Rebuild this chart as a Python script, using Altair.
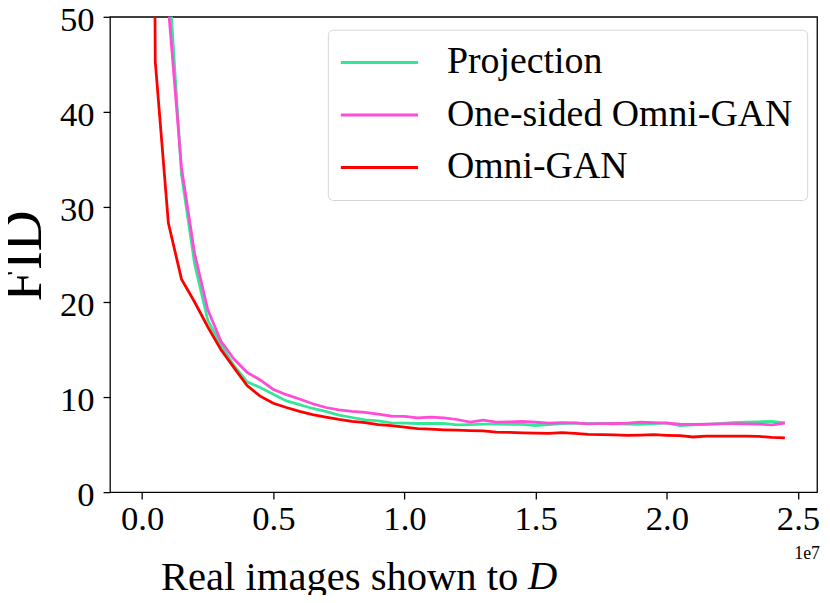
import altair as alt
import pandas as pd

# x in units of 1e7 real images
x_vals = [0.00, 0.05, 0.10, 0.15, 0.20, 0.25, 0.30, 0.35, 0.40, 0.45,
          0.50, 0.55, 0.60, 0.65, 0.70, 0.75, 0.80, 0.85, 0.90, 0.95,
          1.00, 1.05, 1.10, 1.15, 1.20, 1.25, 1.30, 1.35, 1.40, 1.45,
          1.50, 1.55, 1.60, 1.65, 1.70, 1.75, 1.80, 1.85, 1.90, 1.95,
          2.00, 2.05, 2.10, 2.15, 2.20, 2.25, 2.30, 2.35, 2.40, 2.45]

projection = [300, 120, 55, 33.4, 24.0, 18.1, 15.5, 13.3, 11.6, 11.0,
              10.3, 9.6, 9.2, 8.8, 8.5, 8.1, 7.85, 7.6, 7.5, 7.29,
              7.25, 7.22, 7.22, 7.22, 7.08, 7.1, 7.15, 7.15, 7.14, 7.12,
              7.01, 7.1, 7.2, 7.26, 7.2, 7.22, 7.18, 7.15, 7.12, 7.2,
              7.29, 7.01, 7.08, 7.12, 7.2, 7.3, 7.36, 7.4, 7.43, 7.29]

one_sided = [300, 110, 51, 34.1, 25.1, 19.2, 15.9, 14.0, 12.6, 11.8,
             10.8, 10.25, 9.8, 9.3, 8.9, 8.65, 8.5, 8.4, 8.2, 8.0,
             7.98, 7.8, 7.88, 7.8, 7.64, 7.36, 7.57, 7.36, 7.4, 7.43,
             7.35, 7.26, 7.3, 7.29, 7.19, 7.2, 7.22, 7.25, 7.36, 7.3,
             7.26, 7.15, 7.12, 7.16, 7.19, 7.2, 7.19, 7.15, 7.08, 7.26]

omni = [300, 45.3, 28.3, 22.4, 20.0, 17.4, 15.0, 13.1, 11.2, 10.1,
        9.35, 8.9, 8.5, 8.15, 7.9, 7.65, 7.45, 7.3, 7.1, 7.0,
        6.85, 6.67, 6.62, 6.56, 6.52, 6.48, 6.45, 6.32, 6.28, 6.24,
        6.2, 6.18, 6.26, 6.18, 6.08, 6.04, 6.02, 5.97, 6.0, 6.04,
        5.98, 5.95, 5.8, 5.9, 5.88, 5.9, 5.88, 5.86, 5.75, 5.7]

series_names = ["Projection", "One-sided Omni-GAN", "Omni-GAN"]
series_colors = ["#33e69a", "#ff4bd5", "#ff0000"]
x_ticks = [0.0, 0.5, 1.0, 1.5, 2.0, 2.5]
y_ticks = [0, 10, 20, 30, 40, 50]

rows = []
for name, vals in zip(series_names, [projection, one_sided, omni]):
    for xv, yv in zip(x_vals, vals):
        rows.append({"x": xv, "fid": yv, "method": name})
df = pd.DataFrame(rows)

FONT = "Liberation Serif"

lines = alt.Chart(df).mark_line(strokeWidth=2.8, clip=True).encode(
    x=alt.X("x:Q",
            scale=alt.Scale(domain=[-0.1225, 2.5725], nice=False, zero=False),
            axis=alt.Axis(values=x_ticks, format=".1f",
                          title="Real images shown to",
                          titleX=51, titleY=98, titleAlign="left",
                          titleBaseline="alphabetic", titleFontSize=41,
                          titleFont=FONT, titleFontWeight="normal",
                          labelPadding=3)),
    y=alt.Y("fid:Q",
            scale=alt.Scale(domain=[0, 50], nice=False, zero=False),
            axis=alt.Axis(values=y_ticks, title="FID",
                          titleX=-70, titleY=241, titleAngle=270,
                          titleAlign="center", titleBaseline="alphabetic",
                          titleFontSize=57, titleFont=FONT,
                          titleFontWeight="normal", labelPadding=9,
                          labelOffset=3)),
    color=alt.Color("method:N",
                    scale=alt.Scale(domain=series_names, range=series_colors),
                    sort=series_names,
                    legend=alt.Legend(title=None, orient="none",
                                      legendX=220, legendY=13,
                                      symbolType="M-3,0H3", symbolSize=676,
                                      symbolStrokeWidth=3, symbolOffset=19,
                                      labelFont=FONT, labelFontSize=38.2,
                                      labelColor="black", labelOffset=49,
                                      labelLimit=600,
                                      rowPadding=14, padding=14,
                                      strokeColor="#d4d4d4", cornerRadius=5,
                                      fillColor="white")),
)

d_text = alt.Chart(pd.DataFrame({"t": ["D"]})).mark_text(
    font=FONT, fontSize=41, fontStyle="italic", align="left",
    baseline="alphabetic", color="black"
).encode(x=alt.value(422), y=alt.value(578), text="t:N")

exp_text = alt.Chart(pd.DataFrame({"t": ["1e7"]})).mark_text(
    font=FONT, fontSize=18, align="center", baseline="alphabetic",
    color="black"
).encode(x=alt.value(704), y=alt.value(548), text="t:N")

chart = alt.layer(lines, d_text, exp_text).properties(
    width=714, height=480,
    background="white",
    autosize=alt.AutoSizeParams(type="none"),
    padding={"left": 103, "top": 6, "right": 5, "bottom": 101},
).configure_view(
    stroke="black", strokeWidth=1.3
).configure_axis(
    grid=False, domain=False, ticks=True, tickColor="black", tickSize=7,
    tickWidth=1.3, labelFont=FONT, labelFontSize=35, labelColor="black",
    titleColor="black"
)

chart.save("out.html", embed_options={"renderer": "svg", "actions": False})
